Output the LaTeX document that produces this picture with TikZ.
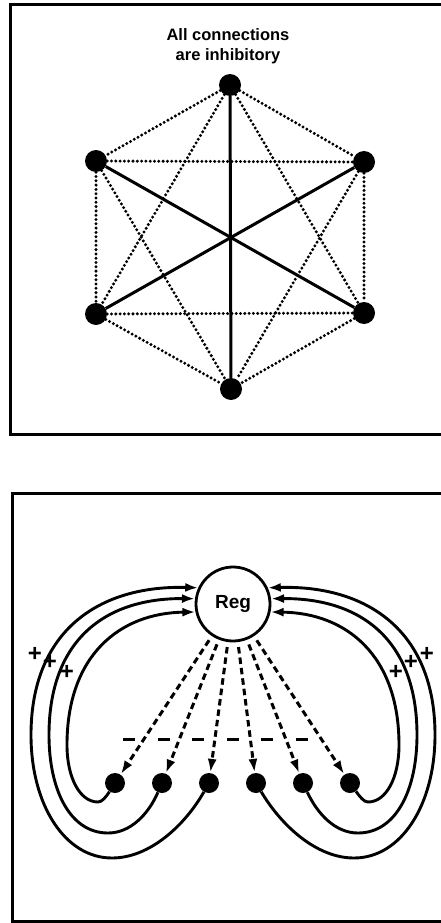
\documentclass[tikz,border=0pt]{standalone}
\usepackage{fontspec}
\setsansfont{Liberation Sans}
\usetikzlibrary{arrows.meta}

\begin{document}
\begin{tikzpicture}[
  x=1pt, y=-1pt,
  frame/.style={line width=3pt},
  cell/.style={circle, fill=black, inner sep=0pt, minimum size=22pt},
  unit/.style={cell, minimum size=20pt},
  hub/.style={circle, draw, line width=2.8pt, inner sep=0pt, minimum size=74pt,
              font=\sffamily\bfseries\fontsize{19}{22}\selectfont},
  inh/.style={line width=3.3pt, line cap=round, dash pattern=on 0pt off 4.3pt},
  opp/.style={line width=3pt},
  fb/.style={-{Latex[length=13pt,width=9pt]}, line width=2.9pt},
  fan/.style={-{Latex[length=14pt,width=9pt]}, line width=3pt,
              dash pattern=on 6.5pt off 4pt, shorten <=5pt},
  thr/.style={line width=3pt, dash pattern=on 12pt off 22.6pt},
  lab/.style={font=\sffamily\bfseries\fontsize{16.5}{19.5}\selectfont, align=center, inner sep=0pt},
  sgn/.style={font=\sffamily\bfseries\fontsize{24}{24}\selectfont, inner sep=0pt}]
  \useasboundingbox (0,0) rectangle (441,923);
  % upper panel
  \draw[frame] (441,5) -| (10,434) -- (441,434);
  \node[lab, anchor=north] (cap) at (228,28.5) {All connections\\are inhibitory};
  \node[cell] (a) at (230,85)  {};
  \node[cell] (b) at (96,161)  {};
  \node[cell] (c) at (364,162) {};
  \node[cell] (d) at (96,314)  {};
  \node[cell] (e) at (364,313) {};
  \node[cell] (f) at (231,389) {};
  \draw[inh] (a) -- (b);
  \draw[inh] (a) -- (c);
  \draw[inh] (b) -- (d);
  \draw[inh] (c) -- (e);
  \draw[inh] (d) -- (f);
  \draw[inh] (e) -- (f);
  \draw[inh] (a) -- (d);
  \draw[inh] (a) -- (e);
  \draw[inh] (b) -- (c);
  \draw[inh] (b) -- (f);
  \draw[inh] (c) -- (f);
  \draw[inh] (d) -- (e);
  \draw[opp] (a) -- (f);
  \draw[opp] (b) -- (e);
  \draw[opp] (c) -- (d);
  % lower panel
  \draw[frame] (441,493) -| (12,921) -- (441,921);
  \node[hub] (reg) at (233,604) {Reg};
  \node[unit] (n1) at (115,783) {};
  \node[unit] (n2) at (162,783) {};
  \node[unit] (n3) at (209,783) {};
  \node[unit] (n4) at (256,783) {};
  \node[unit] (n5) at (303,783) {};
  \node[unit] (n6) at (350,783) {};
  \coordinate (t1) at (123,739);
  \coordinate (t2) at (309,739);
  \draw[thr] (t1) -- (t2);
  \draw[fan] (reg) -- (n1);
  \draw[fan] (reg) -- (n2);
  \draw[fan] (reg) -- (n3);
  \draw[fan] (reg) -- (n4);
  \draw[fan] (reg) -- (n5);
  \draw[fan] (reg) -- (n6);
  % feedback loops, left
  \draw[fb] (n1) .. controls (106,797) and (102,802) .. (98,802)
    .. controls (80,802) and (67,778) .. (67,745)
    .. controls (67,655) and (120,613) .. (reg.192);
  \draw[fb] (n2) .. controls (148,815) and (130,833) .. (108,833)
    .. controls (70,833) and (49,790) .. (49,735)
    .. controls (49,640) and (105,598) .. (reg.172);
  \draw[fb] (n3) .. controls (185,825) and (150,858) .. (112,858)
    .. controls (65,858) and (31,805) .. (31,735)
    .. controls (31,630) and (100,585) .. (reg.155);
  % feedback loops, right
  \draw[fb] (n6) .. controls (360,797) and (364,802) .. (368,802)
    .. controls (386,802) and (399,778) .. (399,745)
    .. controls (399,655) and (346,613) .. (reg.-12);
  \draw[fb] (n5) .. controls (318,815) and (336,833) .. (358,833)
    .. controls (396,833) and (417,790) .. (417,735)
    .. controls (417,640) and (361,598) .. (reg.8);
  \draw[fb] (n4) .. controls (281,825) and (316,858) .. (354,858)
    .. controls (401,858) and (435,805) .. (435,735)
    .. controls (435,630) and (366,585) .. (reg.25);
  \node[sgn] (s1) at (35,654)  {+};
  \node[sgn] (s2) at (50,662)  {+};
  \node[sgn] (s3) at (67,672)  {+};
  \node[sgn] (s4) at (396,672) {+};
  \node[sgn] (s5) at (411,662) {+};
  \node[sgn] (s6) at (427,654) {+};
\end{tikzpicture}
\end{document}
